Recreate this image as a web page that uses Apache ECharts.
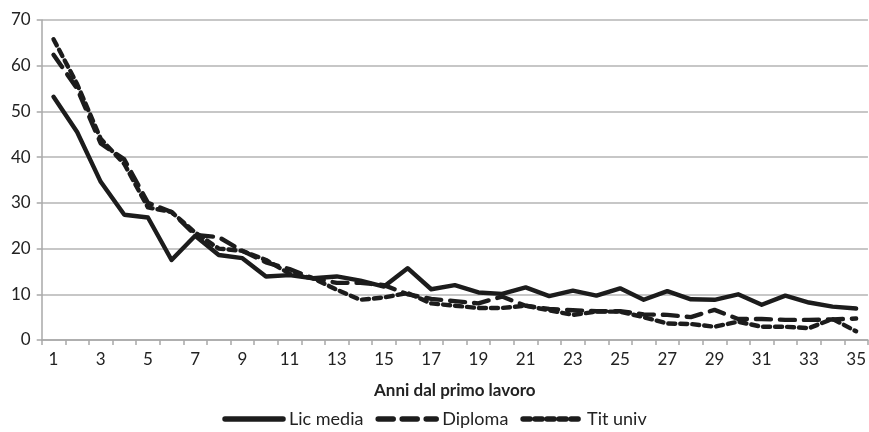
<!DOCTYPE html>
<html>
<head>
<meta charset="utf-8">
<script src="https://cdn.jsdelivr.net/npm/echarts@6/dist/echarts.min.js"></script>
<style>
  html, body { margin: 0; padding: 0; background: #fff; }
  #chart { width: 869px; height: 432px; }
</style>
</head>
<body>
<div id="chart"></div>
<script>
// 类目：工作年数
var anni = [];
for (var i = 1; i <= 35; i++) anni.push(String(i));
// 数据
var licMedia = [53.2, 45.5, 34.6, 27.4, 26.8, 17.5, 22.8, 18.6, 17.9, 13.9, 14.2, 13.5, 13.9, 13.0, 11.7, 15.7, 11.1, 12.0, 10.4, 10.1, 11.5, 9.6, 10.8, 9.7, 11.3, 8.8, 10.7, 8.9, 8.8, 10.0, 7.7, 9.7, 8.2, 7.3, 6.9];
var diploma = [62.4, 55.0, 43.0, 39.5, 30.0, 28.0, 23.0, 22.5, 19.5, 17.0, 15.5, 13.5, 12.5, 12.5, 12.0, 10.0, 9.0, 8.5, 8.0, 9.5, 7.5, 6.8, 6.5, 6.3, 6.3, 5.6, 5.5, 5.0, 6.6, 4.6, 4.6, 4.4, 4.4, 4.5, 4.7];
var titUniv = [65.8, 56.0, 44.0, 38.5, 29.0, 28.0, 23.5, 20.0, 19.5, 17.5, 14.5, 13.5, 11.0, 8.8, 9.3, 10.3, 8.0, 7.5, 7.0, 7.0, 7.5, 6.5, 5.5, 6.2, 6.2, 5.0, 3.6, 3.5, 2.9, 4.0, 2.9, 2.9, 2.6, 4.6, 1.9];
var yTicks = [0, 70, 10];

var myChart = echarts.init(document.getElementById('chart'));
var font = 'Lato, "Open Sans", sans-serif';
var lineColor = '#1c1c1c';

function makeSeries(name, data, dash) {
	return {
		name: name,
		type: 'line',
		data: data,
		symbol: 'none',
		lineStyle: { color: lineColor, width: 4.4, type: dash, cap: 'round', join: 'round' },
		itemStyle: { color: lineColor },
		animation: false
	};
}

myChart.setOption({
	backgroundColor: '#fff',
	animation: false,
	grid: { left: 41.7, right: 1, top: 20, bottom: 92 },
	legend: {
		bottom: -1,
		left: 'center',
		itemWidth: 58,
		itemHeight: 16,
		itemGap: 12,
		itemStyle: { color: 'transparent', borderWidth: 0, opacity: 0 },
		lineStyle: { width: 5.5, cap: 'round' },
		textStyle: { fontFamily: font, fontSize: 18, color: '#222', padding: [0, 0, 0, 1] },
		data: ['Lic media', 'Diploma', 'Tit univ']
	},
	xAxis: {
		type: 'category',
		data: anni,
		boundaryGap: true,
		name: 'Anni dal primo lavoro',
		nameLocation: 'middle',
		nameGap: 42,
		nameTextStyle: { fontFamily: font, fontSize: 17, fontWeight: 'bold', color: '#222' },
		axisLine: { lineStyle: { color: '#a8a8a8', width: 1.5 } },
		axisTick: { show: true, interval: 0, length: 5, lineStyle: { color: '#a8a8a8', width: 1.5 } },
		axisLabel: { interval: 1, fontFamily: font, fontSize: 17, color: '#222', margin: 11 }
	},
	yAxis: {
		type: 'value',
		min: yTicks[0],
		max: yTicks[1],
		interval: yTicks[2],
		axisLine: { show: true, lineStyle: { color: '#a8a8a8', width: 1.5 } },
		axisTick: { show: true, length: 5, lineStyle: { color: '#a8a8a8', width: 1.5 } },
		axisLabel: { fontFamily: font, fontSize: 17, color: '#222', margin: 11 },
		splitLine: { lineStyle: { color: '#b4b4b4', width: 1.5 } }
	},
	series: [
		makeSeries('Lic media', licMedia, 'solid'),
		makeSeries('Diploma', diploma, [15, 9]),
		makeSeries('Tit univ', titUniv, [7, 5])
	]
});
</script>
</body>
</html>
